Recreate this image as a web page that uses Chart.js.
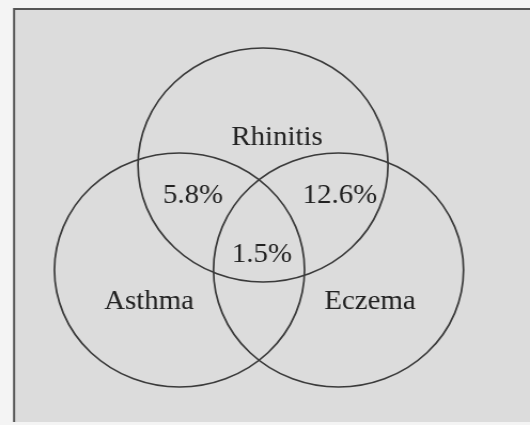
<!DOCTYPE html>
<html>
<head>
<meta charset="utf-8">
<script src="https://cdn.jsdelivr.net/npm/chart.js@4"></script>
<style>
  body { margin: 0; background: #f4f4f4; }
  /* the original picture is a little wider than tall: draw at 496 wide and stretch to 530 */
  #venn { display: block; width: 530px; height: 425px; }
</style>
</head>
<body>
<canvas id="venn" width="496" height="425" style="width:530px;height:425px"></canvas>
<script>
// sets (circle centres in plot units, 0..530 x 0..425, y down)
const setNames = ['Rhinitis', 'Asthma', 'Eczema'];
const setX = [263, 179.5, 338.5];
const setY = [165, 270, 270];
const setR = [117, 117, 117];

// where set names sit
const nameX = [277, 149, 370];
const nameY = [138, 302, 302];

// overlap percentages
const overlapLabels = ['5.8%', '12.6%', '1.5%'];
const overlapX = [193, 340, 262];
const overlapY = [196, 196, 255];

const bubbles = setNames.map((n, i) => ({x: setX[i], y: setY[i], r: setR[i]}));

// grey panel behind the diagram
const panelBg = {
    id: 'panelBg',
    beforeDraw(chart) {
        const ctx = chart.ctx;
        const left = 13.2;
        ctx.save();
        ctx.fillStyle = '#f4f4f4';
        ctx.fillRect(0, 0, chart.width, chart.height);
        ctx.fillStyle = '#dcdcdc';
        ctx.fillRect(left, 9, chart.width - left, chart.height - 12);
        ctx.strokeStyle = '#555';
        ctx.lineWidth = 2;
        ctx.beginPath();
        ctx.moveTo(left, chart.height - 3);
        ctx.lineTo(left, 9);
        ctx.lineTo(chart.width, 9);
        ctx.stroke();
        ctx.restore();
    }
};

// text labels placed through the scales
const vennText = {
    id: 'vennText',
    afterDatasetsDraw(chart) {
        const ctx = chart.ctx;
        const xs = chart.scales.x, ys = chart.scales.y;
        ctx.save();
        ctx.fillStyle = '#222';
        ctx.font = '27px "Liberation Serif", "DejaVu Serif", serif';
        ctx.textAlign = 'center';
        ctx.textBaseline = 'middle';
        setNames.forEach((t, i) => {
            ctx.fillText(t, xs.getPixelForValue(nameX[i]), ys.getPixelForValue(nameY[i]));
        });
        overlapLabels.forEach((t, i) => {
            ctx.fillText(t, xs.getPixelForValue(overlapX[i]), ys.getPixelForValue(overlapY[i]));
        });
        ctx.restore();
    }
};

new Chart(document.getElementById('venn'), {
    type: 'bubble',
    data: {
        datasets: [{
            label: 'Sets',
            data: bubbles,
            backgroundColor: 'rgba(0,0,0,0)',
            borderColor: '#3a3a3a',
            borderWidth: 1.7,
            hoverRadius: 0,
            hoverBorderWidth: 1.7
        }]
    },
    options: {
        responsive: false,
        animation: false,
        events: [],
        devicePixelRatio: 1,
        layout: { padding: 0, autoPadding: false },
        clip: false,
        plugins: {
            legend: { display: false },
            tooltip: { enabled: false }
        },
        scales: {
            x: { type: 'linear', min: 0, max: 530, display: false },
            y: { type: 'linear', min: 0, max: 425, reverse: true, display: false }
        }
    },
    plugins: [panelBg, vennText]
});
</script>
</body>
</html>
